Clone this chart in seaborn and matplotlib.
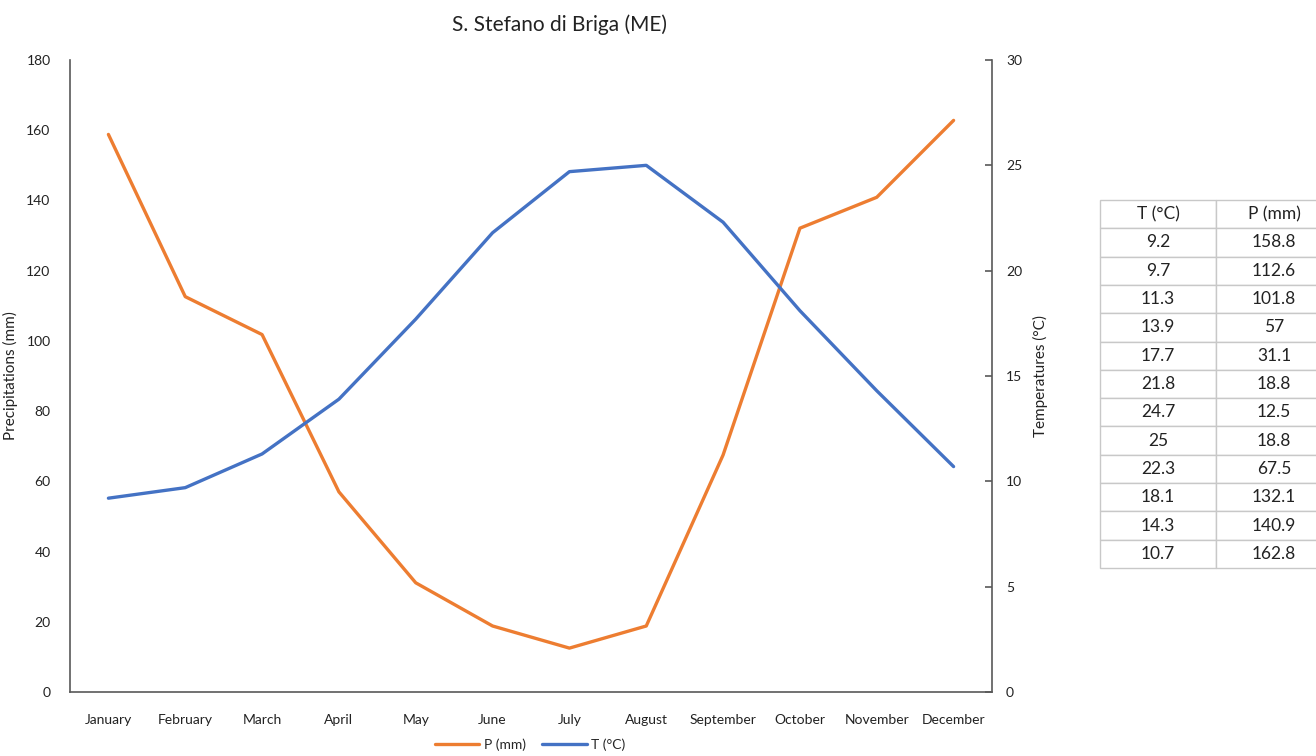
import matplotlib
matplotlib.use("Agg")
import matplotlib.pyplot as plt
import seaborn as sns
import pandas as pd
import numpy as np

months = ["January", "February", "March", "April", "May", "June", "July",
          "August", "September", "October", "November", "December"]
temperature = [9.2, 9.7, 11.3, 13.9, 17.7, 21.8, 24.7, 25, 22.3, 18.1, 14.3, 10.7]
precipitation = [158.8, 112.6, 101.8, 57, 31.1, 18.8, 12.5, 18.8, 67.5, 132.1, 140.9, 162.8]
temp_labels = ["9.2", "9.7", "11.3", "13.9", "17.7", "21.8", "24.7", "25", "22.3", "18.1", "14.3", "10.7"]
prec_labels = ["158.8", "112.6", "101.8", "57", "31.1", "18.8", "12.5", "18.8", "67.5", "132.1", "140.9", "162.8"]

sns.set_theme(style="white")
plt.rcParams["font.family"] = ["Lato", "DejaVu Sans"]

ORANGE = "#ED7D31"
BLUE = "#4472C4"
AXCOL = "#595959"

df = pd.DataFrame({"month": months, "pos": np.arange(len(months)),
                   "P": precipitation, "T": temperature})

fig = plt.figure(figsize=(13.16, 7.56), dpi=100)
ax = fig.add_axes([70 / 1316, 1 - 692 / 756, (992 - 70) / 1316, (692 - 60) / 756])
ax2 = ax.twinx()

sns.lineplot(data=df, x="pos", y="P", ax=ax, color=ORANGE, linewidth=2.4,
             sort=False, label="P (mm)", legend=False)
sns.lineplot(data=df, x="pos", y="T", ax=ax2, color=BLUE, linewidth=2.4,
             sort=False, label="T (°C)", legend=False)

ax.set_xlim(-0.5, len(months) - 0.5)
ax.set_ylim(0, 180)
ax.set_yticks(np.arange(0, 181, 20))
ax2.set_ylim(0, 30)
ax2.set_yticks(np.arange(0, 31, 5))
ax.set_xticks(np.arange(len(months)))
ax.set_xticklabels(months)

for a in (ax, ax2):
    for s in a.spines.values():
        s.set_visible(False)
    a.grid(False)
    a.set_facecolor("none")

ax.spines["left"].set_visible(True)
ax.spines["left"].set_color(AXCOL)
ax.spines["left"].set_linewidth(1.2)
ax.spines["bottom"].set_visible(True)
ax.spines["bottom"].set_color(AXCOL)
ax.spines["bottom"].set_linewidth(1.2)
ax2.spines["right"].set_visible(True)
ax2.spines["right"].set_color(AXCOL)
ax2.spines["right"].set_linewidth(1.2)

ax.tick_params(axis="y", length=0, pad=14, labelsize=10, labelcolor="#222222")
ax.tick_params(axis="x", length=0, pad=16, labelsize=10, labelcolor="#222222")
ax2.tick_params(axis="y", direction="in", length=5, width=1.2, color=AXCOL,
                pad=10, labelsize=10, labelcolor="#222222")

ax.set_xlabel("")
ax.set_ylabel("Precipitations (mm)", fontsize=11, labelpad=6, color="#222222")
ax2.set_ylabel("Temperatures (°C)", fontsize=11, labelpad=8, color="#222222")

fig.text(560 / 1316, 1 - 25 / 756, "S. Stefano di Briga (ME)", ha="center",
         va="center", fontsize=15, color="#222222")

handles = [ax.get_lines()[0], ax2.get_lines()[0]]
fig.legend(handles, ["P (mm)", "T (°C)"], loc="center",
           bbox_to_anchor=(530 / 1316, 1 - 745 / 756), ncol=2, frameon=False,
           fontsize=10, handlelength=3.2, handletextpad=0.3, columnspacing=1.2)

# Monthly values table
cell_text = [["T (°C)", "P (mm)"]] + [[t, p] for t, p in zip(temp_labels, prec_labels)]
tab_ax = fig.add_axes([1100 / 1316, 1 - 568 / 756, 232 / 1316, (568 - 200) / 756])
tab_ax.axis("off")
table = tab_ax.table(cellText=cell_text, cellLoc="center", bbox=[0, 0, 1, 1])
table.auto_set_font_size(False)
for (r, c), cell in table.get_celld().items():
    cell.set_edgecolor("#C8C8C8")
    cell.set_linewidth(1.0)
    cell.get_text().set_fontsize(12.5)
    cell.get_text().set_color("#222222")

fig.savefig("out.png", dpi=100)
